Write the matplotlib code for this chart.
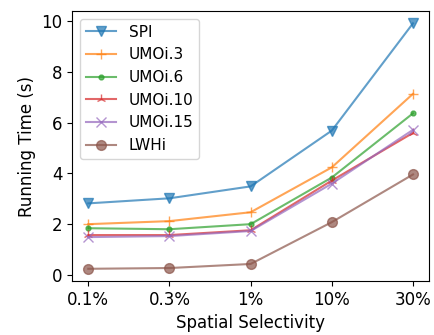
import matplotlib
matplotlib.use("Agg")
import matplotlib.pyplot as plt

categories = ["0.1%", "0.3%", "1%", "10%", "30%"]
spi = [2.82, 3.02, 3.49, 5.69, 9.92]
umoi3 = [2.0, 2.12, 2.47, 4.24, 7.14]
umoi6 = [1.84, 1.8, 2.0, 3.84, 6.37]
umoi10 = [1.57, 1.57, 1.76, 3.72, 5.6]
umoi15 = [1.49, 1.53, 1.73, 3.6, 5.72]
lwhi = [0.24, 0.27, 0.43, 2.08, 3.96]

fig = plt.figure(figsize=(4.34, 3.35), dpi=100)
ax = fig.add_axes([0.166, 0.161, 0.823, 0.806])
x = range(len(categories))
alpha = 0.7
ax.plot(x, spi, marker="v", markersize=7, label="SPI", alpha=alpha, color="C0")
ax.plot(x, umoi3, marker="+", markersize=7, label="UMOi.3", alpha=alpha, color="C1")
ax.plot(x, umoi6, marker=".", markersize=7, label="UMOi.6", alpha=alpha, color="C2")
ax.plot(x, umoi10, marker="2", markersize=7, label="UMOi.10", alpha=alpha, color="C3")
ax.plot(x, umoi15, marker="x", markersize=7, label="UMOi.15", alpha=alpha, color="C4")
ax.plot(x, lwhi, marker="o", markersize=7, label="LWHi", alpha=alpha, color="C5")
ax.set_xticks(list(x))
ax.set_xticklabels(categories, fontsize=12)
ax.set_yticks([0, 2, 4, 6, 8, 10])
ax.tick_params(axis="y", labelsize=12)
ax.set_xlabel("Spatial Selectivity", fontsize=12)
ax.set_ylabel("Running Time (s)", fontsize=12)
ax.legend(fontsize=11, loc="upper left")
fig.savefig("out.png", dpi=100)
